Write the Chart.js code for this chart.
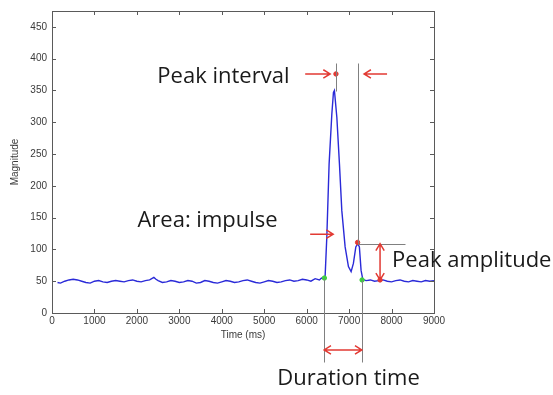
<!DOCTYPE html>
<html><head><meta charset="utf-8">
<script src="https://cdn.jsdelivr.net/npm/chart.js@4/dist/chart.umd.min.js"></script>
<style>html,body{margin:0;padding:0;background:#fff;}canvas{display:block}</style>
</head><body>
<canvas id="c" width="553" height="395"></canvas>
<script>
// ---- data ----
const timeMs = [130,200,300,400,500,600,700,800,900,1000,1100,1200,1300,1400,1500,1600,1700,1800,1900,2000,
  2100,2200,2300,2400,2450,2500,2600,2700,2800,2900,3000,3100,3200,3300,3400,3500,3600,3700,3800,3900,
  4000,4100,4200,4300,4400,4500,4600,4700,4800,4900,5000,5100,5200,5300,5400,5500,5600,5700,5800,5900,
  6000,6100,6200,6300,6350,6400,
  6435,6475,6529,6593,6631,6654,6711,6772,6828,6906,6984,7047,7101,7158,7205,7242,7282,7322,
  7400,7500,7600,7700,7800,7900,8000,8100,8200,8300,8400,8500,8600,8700,8800,8900,9000];
const magnitude = [48,47,50,52,53,52,50,48,47,50,51,49,48,50,51,50,49,51,52,50,
  49,51,52,56,53,51,48,49,51,50,48,49,51,50,47,48,51,50,48,47,
  49,51,50,48,49,51,52,50,48,47,49,51,50,48,49,51,52,50,51,53,
  52,50,54,52,55,54,
  58,120,235,313,347,350,308,235,161,104,73,65,78,104,109,104,67,53,
  51,52,50,51,52,50,49,51,52,50,49,51,50,49,51,50,51];
const xTicks = [0,1000,2000,3000,4000,5000,6000,7000,8000,9000];
const yTicks = [0,50,100,150,200,250,300,350,400,450];
const onsetTimes = [6418,7306];
const onsetMags = [55,52];
const peakMarkTimes = [6690,7200,7729];
const peakMarkMags = [376,111,52];

// ---- annotation geometry (data coordinates) ----
const guideLines = [
  [6412,55,6412,-77],[7299,52,7299,-77],
  [6690,393,6690,349],[7200,393,7200,109],[7200,109,8318,109]
];
const arrows = [ // x1,y1,x2,y2,headStart,headEnd
  [5965,376,6553,376,false,true],
  [7894,376,7353,376,false,true],
  [6082,124,6624,124,false,true],
  [7729,109,7729,52,true,true],
  [6412,-58,7299,-58,true,true]
];
const notes = [
  ['Peak interval',2482,362],
  ['Area: impulse',2012,135],
  ['Peak amplitude',8012,72],
  ['Duration time',5306,-114]
];

const annot = {
  id:'annot',
  afterDraw(chart){
    const {ctx, chartArea:a, scales:{x,y}} = chart;
    ctx.save();
    // box
    ctx.strokeStyle='#5a5a5a'; ctx.lineWidth=1;
    ctx.strokeRect(Math.round(a.left)+0.5, Math.round(a.top)+0.5, Math.round(a.right-a.left), Math.round(a.bottom-a.top));
    // inward ticks
    ctx.beginPath();
    xTicks.forEach(v=>{const px=Math.round(x.getPixelForValue(v))+0.5;
      ctx.moveTo(px,a.bottom); ctx.lineTo(px,a.bottom-4);
      ctx.moveTo(px,a.top); ctx.lineTo(px,a.top+4);});
    yTicks.forEach(v=>{const py=Math.round(y.getPixelForValue(v))+0.5;
      ctx.moveTo(a.left,py); ctx.lineTo(a.left+4,py);
      ctx.moveTo(a.right,py); ctx.lineTo(a.right-4,py);});
    ctx.stroke();
    // guide lines
    ctx.strokeStyle='#808080'; ctx.lineWidth=1;
    guideLines.forEach(([x1,y1,x2,y2])=>{
      ctx.beginPath();
      ctx.moveTo(Math.round(x.getPixelForValue(x1))+0.5, Math.round(y.getPixelForValue(y1))+0.5);
      ctx.lineTo(Math.round(x.getPixelForValue(x2))+0.5, Math.round(y.getPixelForValue(y2))+0.5);
      ctx.stroke();
    });
    // arrows
    ctx.strokeStyle='#e23a33'; ctx.lineWidth=1.5;
    const head=(px,py,ang)=>{
      const L=8,W=0.55;
      ctx.moveTo(px-L*Math.cos(ang-W), py-L*Math.sin(ang-W));
      ctx.lineTo(px,py);
      ctx.lineTo(px-L*Math.cos(ang+W), py-L*Math.sin(ang+W));
    };
    arrows.forEach(([x1,y1,x2,y2,hs,he])=>{
      const p1=[x.getPixelForValue(x1),y.getPixelForValue(y1)];
      const p2=[x.getPixelForValue(x2),y.getPixelForValue(y2)];
      const ang=Math.atan2(p2[1]-p1[1],p2[0]-p1[0]);
      ctx.beginPath();
      ctx.moveTo(p1[0],p1[1]); ctx.lineTo(p2[0],p2[1]);
      if(he) head(p2[0],p2[1],ang);
      if(hs) head(p1[0],p1[1],ang+Math.PI);
      ctx.stroke();
    });
    // notes
    ctx.fillStyle='#1a1a1a';
    ctx.font='22px "Open Sans", "Noto Sans", sans-serif';
    ctx.textAlign='left'; ctx.textBaseline='alphabetic';
    notes.forEach(([t,tx,ty])=>ctx.fillText(t, x.getPixelForValue(tx), y.getPixelForValue(ty)));
    ctx.restore();
  }
};

const tickFont = {family:'"Liberation Sans", Arial, sans-serif', size:10};
new Chart(document.getElementById('c'), {
  type:'scatter',
  data:{datasets:[
    {data: timeMs.map((t,i)=>({x:t,y:magnitude[i]})), showLine:true, borderColor:'#2a2ad8', borderWidth:1.4,
     pointRadius:0, tension:0, order:3},
    {data: onsetTimes.map((t,i)=>({x:t,y:onsetMags[i]})), showLine:false, pointRadius:2.2,
     pointBackgroundColor:'#3fcf3f', pointBorderColor:'#3fcf3f', order:1},
    {data: peakMarkTimes.map((t,i)=>({x:t,y:peakMarkMags[i]})), showLine:false, pointRadius:2.2,
     pointBackgroundColor:'#e23a33', pointBorderColor:'#e23a33', order:2}
  ]},
  options:{
    responsive:false, animation:false, devicePixelRatio:1,
    layout:{padding:{left:0,right:119,top:10,bottom:52}},
    plugins:{legend:{display:false}, tooltip:{enabled:false}},
    scales:{
      x:{type:'linear', min:0, max:9000,
        afterBuildTicks:s=>{s.ticks=xTicks.map(v=>({value:v}));},
        afterFit:s=>{s.height=30;},
        grid:{display:false, drawTicks:false}, border:{display:false},
        ticks:{font:tickFont, color:'#3a3a3a', padding:2, maxRotation:0, autoSkip:false, callback:v=>String(v)},
        title:{display:true, text:'Time (ms)', font:tickFont, color:'#3a3a3a', padding:{top:0,bottom:2}}},
      y:{type:'linear', min:0, max:475,
        afterBuildTicks:s=>{s.ticks=yTicks.map(v=>({value:v}));},
        afterFit:s=>{s.width=52;},
        grid:{display:false, drawTicks:false}, border:{display:false},
        ticks:{font:tickFont, color:'#3a3a3a', padding:5, autoSkip:false, callback:v=>String(v)},
        title:{display:true, text:'Magnitude', font:tickFont, color:'#3a3a3a', padding:{top:9,bottom:0}}}
    }
  },
  plugins:[annot]
});
</script>
</body></html>
